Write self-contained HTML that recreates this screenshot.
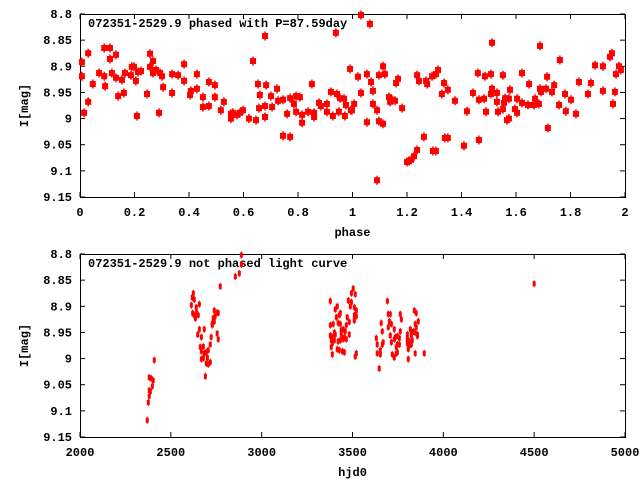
<!DOCTYPE html>
<html><head><meta charset="utf-8"><style>
html,body{margin:0;padding:0;background:#fff;}
svg{display:block;}
text{font-family:"Liberation Mono","DejaVu Sans Mono",monospace;font-weight:bold;font-size:12px;fill:#000;}
</style></head><body>
<svg id="chart" width="640" height="480" viewBox="0 0 640 480" xmlns="http://www.w3.org/2000/svg"></svg>
<script>
// ---- Top panel data (phase, I mag) ----
const phasedPhase = [0.007,0.007,0.015,0.03,0.03,0.047,0.07,0.089,0.089,0.092,0.11,0.11,0.117,0.132,0.132,0.14,0.154,0.161,0.165,0.187,0.19,0.198,0.205,0.209,0.213,0.224,0.246,0.257,0.257,0.268,0.268,0.279,0.29,0.294,0.301,0.305,0.338,0.338,0.36,0.382,0.382,0.404,0.407,0.429,0.429,0.451,0.451,0.473,0.473,0.495,0.495,0.517,0.528,0.554,0.554,0.561,0.576,0.587,0.598,0.62,0.635,0.646,0.653,0.657,0.66,0.679,0.679,0.679,0.683,0.701,0.705,0.723,0.727,0.745,0.745,0.76,0.771,0.771,0.785,0.793,0.793,0.807,0.815,0.815,0.837,0.851,0.859,0.859,0.877,0.884,0.906,0.906,0.921,0.928,0.939,0.943,0.95,0.954,0.969,0.972,0.976,0.991,0.994,1.006,
0.998,1.02,1.031,1.031,1.053,1.053,1.064,1.068,1.075,1.075,1.09,1.09,1.097,1.097,1.112,1.112,1.119,1.134,1.138,1.145,1.156,1.16,1.167,1.182,1.2,1.207,1.215,1.226,1.237,1.237,1.244,1.262,1.27,1.274,1.292,1.295,1.306,1.306,1.314,1.328,1.336,1.339,1.35,1.35,1.376,1.409,1.42,1.442,1.46,1.464,1.464,1.483,1.486,1.49,1.508,1.508,1.512,1.512,1.53,1.53,1.534,1.552,1.552,1.556,1.56,1.567,1.574,1.574,1.578,1.596,1.604,1.604,1.622,1.622,1.644,1.648,1.666,1.67,1.684,1.688,1.688,1.692,1.71,1.714,1.717,1.732,1.74,1.758,1.761,1.78,1.783,1.802,1.82,1.831,1.864,1.875,1.89,1.919,1.919,1.945,1.952,1.956,1.963,1.967,1.978,1.985];
const phasedMag = [8.892,8.919,8.989,8.875,8.968,8.934,8.913,8.865,8.919,8.938,8.865,8.886,8.913,8.878,8.922,8.957,8.926,8.951,8.913,8.917,8.901,8.901,8.928,8.995,8.911,8.909,8.953,8.876,8.901,8.89,8.913,8.907,8.989,8.913,8.919,8.94,8.915,8.951,8.917,8.896,8.928,8.955,8.947,8.915,8.943,8.959,8.978,8.93,8.976,8.936,8.959,8.984,8.968,8.991,9.0,8.989,8.993,8.989,8.984,9.0,8.89,9.003,8.934,8.98,8.955,8.842,8.976,8.997,8.936,8.957,8.978,8.943,8.966,8.964,9.033,8.991,8.961,9.035,8.972,8.957,8.987,8.959,8.993,9.008,8.987,8.934,8.989,8.997,8.97,8.976,8.972,8.987,8.949,8.995,8.836,8.953,8.987,8.961,8.962,8.995,8.974,8.905,8.984,8.972,
8.984,8.92,8.802,8.951,8.915,9.007,8.819,8.93,8.947,8.972,8.984,9.118,8.917,9.005,8.9,9.01,8.915,8.959,8.968,8.964,8.966,8.932,8.924,8.98,9.083,9.081,9.079,9.072,8.917,9.06,8.928,9.035,8.928,8.934,8.919,9.062,9.062,8.915,8.907,8.953,8.932,9.037,8.945,9.037,8.966,9.052,8.986,8.951,8.913,8.964,9.041,8.962,8.919,8.987,8.915,8.953,8.855,8.943,8.951,8.968,8.987,8.917,8.982,8.97,8.961,9.003,9.0,8.962,8.945,8.982,8.962,8.989,8.913,8.97,8.974,8.934,8.974,8.962,8.972,8.943,8.861,8.949,8.943,8.92,9.018,8.949,8.936,8.974,8.888,8.953,8.986,8.964,8.991,8.93,8.953,8.932,8.898,8.9,8.947,8.882,8.875,8.972,8.949,8.915,8.9,8.907];
// ---- Bottom panel data (hjd0, I mag) ----
const hjd = [2370,2376,2381,2381,2387,2398,2381,2392,2403,2409,2613,2618,2624,2629,2620,2629,2635,2642,2640,2651,2657,2657,2648,2668,2684,2662,2679,2668,2684,2695,2706,2668,2679,2701,2695,2717,2706,2690,2717,2722,2728,2733,2739,2744,2755,2761,2728,2739,2755,2761,2772,2855,2877,2888,2888,
3378,3504,3494,3515,3477,3494,3405,3416,3510,3521,3488,3427,3433,3411,3510,3521,3510,3471,3482,3378,3394,3421,3433,3466,3400,3438,3449,3460,3438,3482,3378,3389,3405,3455,3449,3466,3383,3400,3421,3433,3389,3383,3416,3427,3444,3455,3389,3521,3515,
3692,3697,3708,3658,3703,3714,3697,3664,3730,3763,3769,3763,3708,3736,3747,3758,3631,3714,3730,3747,3758,3669,3664,3636,3741,3653,3636,3653,3719,3730,3741,3747,3647,
3840,3851,3862,3845,3851,3818,3824,3835,3845,3857,3857,3802,3824,3802,3813,3829,3802,3813,3824,3807,3845,3895,3807,4500];
const hjdMag = [9.118,9.084,9.072,9.061,9.063,9.053,9.036,9.038,9.042,9.003,8.898,8.883,8.875,8.887,8.913,8.917,8.923,8.912,8.902,8.917,8.896,8.944,8.954,8.959,8.944,8.978,8.977,8.986,8.99,8.988,8.984,9.001,8.999,8.998,9.009,9.007,9.011,9.034,8.973,8.959,8.933,8.923,8.908,8.919,8.912,8.913,8.936,8.929,8.952,8.963,8.862,8.843,8.837,8.82,8.802,
8.89,8.866,8.875,8.877,8.889,8.892,8.906,8.9,8.902,8.908,8.9,8.917,8.913,8.921,8.917,8.919,8.927,8.921,8.93,8.936,8.934,8.932,8.934,8.936,8.95,8.946,8.944,8.948,8.954,8.954,8.956,8.959,8.954,8.959,8.963,8.963,8.965,8.965,8.967,8.965,8.971,8.978,8.982,8.984,8.986,8.988,8.992,8.99,8.996,
8.89,8.915,8.915,8.932,8.929,8.934,8.94,8.948,8.944,8.915,8.925,8.948,8.956,8.959,8.957,8.961,8.961,8.969,8.963,8.973,8.973,8.969,8.973,8.973,8.978,8.984,8.99,8.992,8.992,8.998,8.99,8.988,9.019,
8.908,8.913,8.929,8.934,8.94,8.944,8.95,8.948,8.95,8.954,8.957,8.954,8.956,8.963,8.967,8.965,8.971,8.975,8.973,8.982,8.99,8.99,9.001,8.857];
const yTicks = ["8.8","8.85","8.9","8.95","9","9.05","9.1","9.15"];
const yTickVals = [8.8,8.85,8.9,8.95,9.0,9.05,9.1,9.15];
const phaseTicks = ["0","0.2","0.4","0.6","0.8","1","1.2","1.4","1.6","1.8","2"];
const phaseTickVals = [0,0.2,0.4,0.6,0.8,1,1.2,1.4,1.6,1.8,2];
const hjdTicks = ["2000","2500","3000","3500","4000","4500","5000"];
const hjdTickVals = [2000,2500,3000,3500,4000,4500,5000];

const NS="http://www.w3.org/2000/svg";
const svg=document.getElementById('chart');
function mk(tag,attrs,parent){const e=document.createElementNS(NS,tag);for(const k in attrs)e.setAttribute(k,attrs[k]);(parent||svg).appendChild(e);return e;}

function panel(cfg){
  const g=mk('g',{});
  
  
  const L=80,R=625,T=cfg.top,B=cfg.top+183;
  const sx=v=>L+(v-cfg.xmin)/(cfg.xmax-cfg.xmin)*(R-L);
  const sy=v=>T+(v-8.8)/(0.35)*(B-T);
  // ticks
  yTickVals.forEach((v,i)=>{
    const y=sy(v);
    mk('line',{x1:L,y1:y,x2:L+5,y2:y,stroke:'#000'},g);
    mk('line',{x1:R,y1:y,x2:R-5,y2:y,stroke:'#000'},g);
    const t=mk('text',{x:72,y:y+4,'text-anchor':'end'},g);
    t.textContent=yTicks[i];
    
    
  });
  cfg.xvals.forEach((v,i)=>{
    const x=sx(v);
    mk('line',{x1:x,y1:B,x2:x,y2:B-5,stroke:'#000'},g);
    mk('line',{x1:x,y1:T,x2:x,y2:T+5,stroke:'#000'},g);
    const t=mk('text',{x:x,y:B+19,'text-anchor':'middle'},g);
    t.textContent=cfg.xlabels[i];
    
    
  });
  const fr=mk('rect',{x:L+0.5,y:T+0.5,width:R-L,height:B-T,fill:'none',stroke:'#000'},g);
  
  
  const xt=mk('text',{x:(L+R)/2,y:B+39,'text-anchor':'middle'},g);
  xt.textContent=cfg.xtitle;
  
  
  const yt=mk('text',{x:0,y:0,'text-anchor':'middle',transform:`translate(28,${(T+B)/2}) rotate(-90)`},g);
  yt.textContent='I[mag]';
  
  
  const tt=mk('text',{x:88,y:T+13},g);
  tt.textContent=cfg.title;
  
  
  cfg.xs.forEach((v,i)=>{
    const x=sx(v),y=sy(cfg.ys[i]);
    const m=mk('g',{},g);
    
    
    if(cfg.big){
      mk('rect',{x:x-3,y:y-3,width:6,height:6,fill:'#f00'},m);
      mk('line',{x1:x,y1:y-4.5,x2:x,y2:y+4.5,stroke:'#f00','stroke-width':1.5},m);
    }else{
      mk('rect',{x:x-1.5,y:y-2.5,width:3,height:5,fill:'#f00'},m);
      mk('line',{x1:x,y1:y-3.5,x2:x,y2:y+3.5,stroke:'#f00','stroke-width':1},m);
    }
  });
}
panel({name:'phased-panel',top:14,xmin:0,xmax:2,xvals:phaseTickVals,xlabels:phaseTicks,xtitle:'phase',
  title:'072351-2529.9 phased with P=87.59day',xs:phasedPhase,ys:phasedMag,big:true});
panel({name:'unphased-panel',top:254,xmin:2000,xmax:5000,xvals:hjdTickVals,xlabels:hjdTicks,xtitle:'hjd0',
  title:'072351-2529.9 not phased light curve',xs:hjd,ys:hjdMag,big:false});
</script>
</body></html>
